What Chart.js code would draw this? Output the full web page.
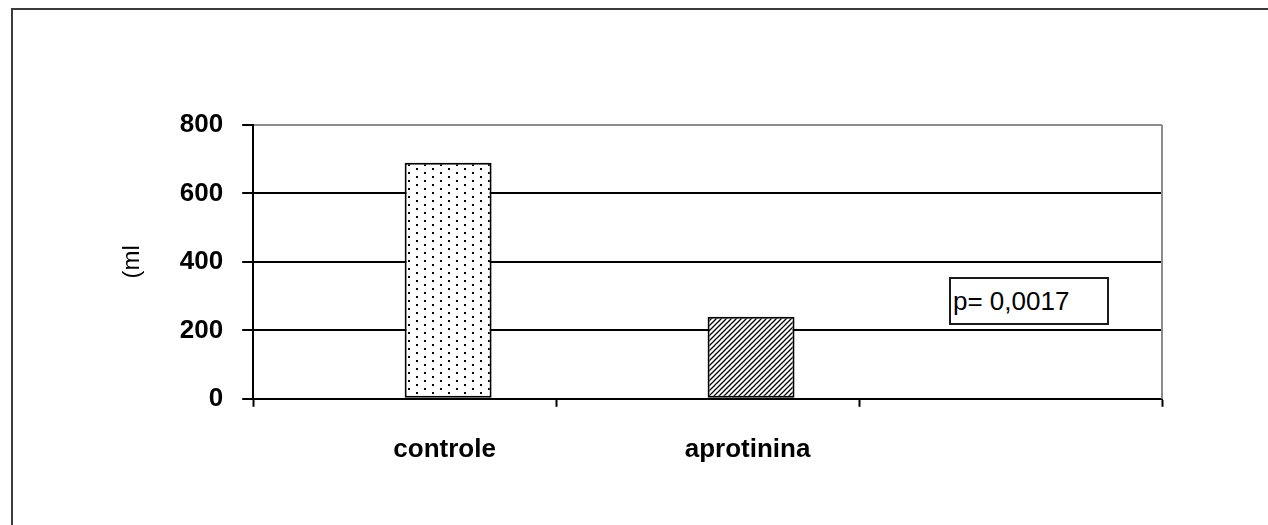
<!DOCTYPE html>
<html>
<head>
<meta charset="utf-8">
<script src="https://cdn.jsdelivr.net/npm/chart.js@4/dist/chart.umd.min.js"></script>
<style>
  html, body { margin: 0; padding: 0; background: #fff; overflow: hidden; }
  #wrap { position: relative; width: 1268px; height: 525px; }
  #frame {
    position: absolute; left: 11px; top: 8px; width: 1400px; height: 700px;
    border-top: 2px solid #3c3c3c; border-left: 2px solid #3c3c3c;
  }
  #chart { position: absolute; left: 0; top: 0; }
  #pbox {
    position: absolute; left: 949px; top: 277px; width: 154px; height: 44px;
    border: 2px solid #1a1a1a; background: #fff;
    font: 26px "Liberation Sans", Arial, sans-serif; line-height: 44px;
    padding-left: 2px; color: #000; white-space: nowrap;
  }
</style>
</head>
<body>
<div id="wrap">
  <div id="frame"></div>
  <canvas id="chart" width="1268" height="525"></canvas>
  <div id="pbox"></div>
</div>
<script>
// ---- données ----
const categories = ['controle', 'aprotinina', ''];
const emptySeries = [null, null, null];      // série vide (position gauche)
const volumeMl = [690, 240, null];            // perte (ml)
const yTicks = [0, 200, 400, 600, 800];
const yTitle = '(ml';
const pValueText = 'p= 0,0017';

const FONT = '"Liberation Sans", Arial, sans-serif';

// motif pointillé (controle)
function dotPattern() {
    const c = document.createElement('canvas');
    c.width = 16; c.height = 8;
    const g = c.getContext('2d');
    g.fillStyle = '#fff';
    g.fillRect(0, 0, 16, 8);
    g.fillStyle = '#000';
    g.fillRect(0, 0, 2, 2);
    g.fillRect(8, 4, 2, 2);
    return g.createPattern(c, 'repeat');
}

// motif hachuré "/" (aprotinina)
function hatchPattern() {
    const n = 5;
    const c = document.createElement('canvas');
    c.width = n; c.height = n;
    const g = c.getContext('2d');
    g.fillStyle = '#fff';
    g.fillRect(0, 0, n, n);
    g.strokeStyle = '#000';
    g.lineWidth = 1.3;
    g.beginPath();
    g.moveTo(-1, n + 1); g.lineTo(n + 1, -1);
    g.moveTo(-1, 1); g.lineTo(1, -1);
    g.moveTo(n - 1, n + 1); g.lineTo(n + 1, n - 1);
    g.stroke();
    return g.createPattern(c, 'repeat');
}

// bord droit gris de la zone de tracé
const rightBorder = {
    id: 'rightBorder',
    beforeDatasetsDraw(chart) {
        const a = chart.chartArea, ctx = chart.ctx;
        ctx.save();
        ctx.strokeStyle = '#8c8c8c';
        ctx.lineWidth = 2;
        ctx.beginPath();
        ctx.moveTo(a.right, a.top);
        ctx.lineTo(a.right, a.bottom);
        ctx.stroke();
        ctx.restore();
    }
};

document.getElementById('pbox').textContent = pValueText;

new Chart(document.getElementById('chart').getContext('2d'), {
    type: 'bar',
    data: {
        labels: categories,
        datasets: [
            { label: 'serie 1', data: emptySeries, backgroundColor: '#fff' },
            {
                label: 'serie 2',
                data: volumeMl,
                backgroundColor: [dotPattern(), hatchPattern(), '#fff'],
                borderColor: '#000',
                borderWidth: 2,
                borderSkipped: false
            }
        ]
    },
    options: {
        responsive: false,
        animation: false,
        devicePixelRatio: 1,
        layout: { padding: { left: 118, right: 106, top: 125, bottom: 33 } },
        plugins: { legend: { display: false }, tooltip: { enabled: false } },
        datasets: { bar: { categoryPercentage: 0.574, barPercentage: 1 } },
        scales: {
            x: {
                grid: {
                    offset: true,
                    drawOnChartArea: false,
                    drawTicks: true,
                    tickLength: 8,
                    tickColor: '#000',
                    tickWidth: 2
                },
                border: { color: '#000', width: 2 },
                ticks: {
                    color: '#000',
                    padding: 27,
                    labelOffset: 40,
                    font: { family: FONT, size: 26, weight: 'bold' }
                }
            },
            y: {
                min: 0,
                max: 800,
                afterBuildTicks(scale) {
                    scale.ticks = yTicks.map(v => ({ value: v }));
                },
                grid: {
                    color: ctx => (ctx.tick && ctx.tick.value === 800 ? '#8c8c8c' : '#000'),
                    lineWidth: 2,
                    tickColor: '#000',
                    tickLength: 11,
                    tickWidth: 2
                },
                border: { color: '#000', width: 2 },
                ticks: {
                    color: '#000',
                    padding: 19,
                    font: { family: FONT, size: 26, weight: 'bold' }
                },
                title: {
                    display: true,
                    text: yTitle,
                    color: '#000',
                    padding: { top: 0, bottom: 14 },
                    font: { family: FONT, size: 24 }
                }
            }
        }
    },
    plugins: [rightBorder]
});
</script>
</body>
</html>
